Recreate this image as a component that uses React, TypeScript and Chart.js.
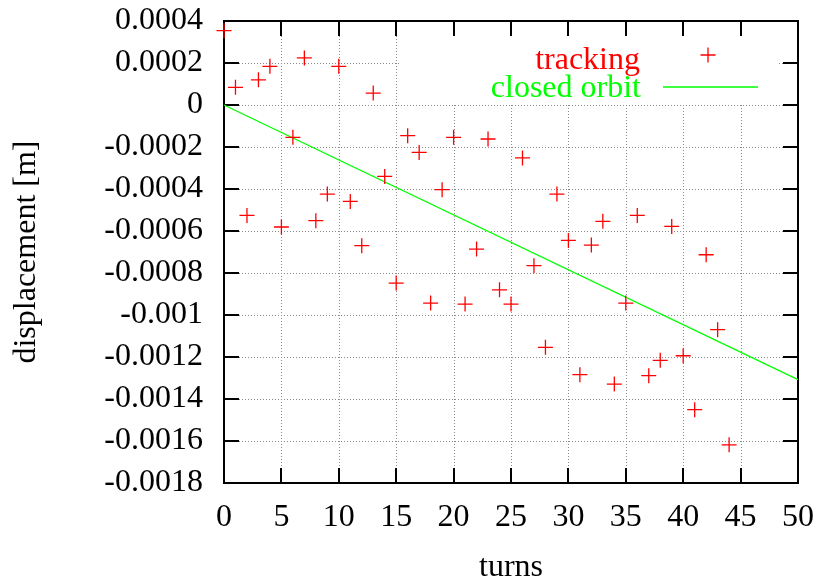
import React, { useEffect, useRef } from "react";
import { Chart, registerables } from "chart.js";

Chart.register(...registerables);

// Turn numbers of the tracked particle
const turns = [
  0, 1, 2, 3, 4, 5, 6, 7, 8, 9, 10, 11, 12, 13, 14, 15, 16, 17, 18, 19, 20, 21,
  22, 23, 24, 25, 26, 27, 28, 29, 30, 31, 32, 33, 34, 35, 36, 37, 38, 39, 40,
  41, 42, 43, 44,
];

// Displacement from tracking [m]
const trackingDisp = [
  0.000354, 0.000084, -0.000526, 0.00012, 0.000184, -0.000581, -0.000154,
  0.000224, -0.000551, -0.000424, 0.000184, -0.000459, -0.00067, 0.000057,
  -0.00034, -0.000848, -0.000146, -0.000226, -0.000943, -0.000403, -0.000154,
  -0.000948, -0.000686, -0.000162, -0.00088, -0.000948, -0.000252, -0.000765,
  -0.001154, -0.000424, -0.000645, -0.001284, -0.000667, -0.000554, -0.001329,
  -0.000943, -0.000526, -0.001289, -0.001216, -0.000578, -0.001194, -0.001451,
  -0.000713, -0.00107, -0.001618,
];

// Closed orbit line end points
const orbitTurns = [0, 50];
const orbitDisp = [0, -0.001308];

// Axis ranges and steps
const xRange = [0, 50];
const xStep = 5;
const yRange = [-0.0018, 0.0004];
const yStep = 0.0002;

const FONT = "'Liberation Serif', 'Times New Roman', serif";

const frameAndKey = {
  id: "frameAndKey",
  beforeDatasetsDraw(chart: any) {
    const { ctx, chartArea: a, scales } = chart;
    const xs = scales.x;
    const ys = scales.y;
    const xTicks: number[] = [];
    for (let v = xRange[0]; v <= xRange[1] + 1e-9; v += xStep) xTicks.push(v);
    const yTicks: number[] = [];
    for (let i = 0; ; i++) {
      const v = yRange[0] + i * yStep;
      if (v > yRange[1] + 1e-12) break;
      yTicks.push(v);
    }
    const snap = (p: number) => Math.round(p) + 0.5;

    // key area kept clear of grid lines
    const keyBox = { x1: 400, x2: 777, y1: a.top, y2: 103 };

    ctx.save();
    ctx.beginPath();
    ctx.rect(a.left, a.top, a.right - a.left, a.bottom - a.top);
    ctx.rect(keyBox.x2, keyBox.y1, keyBox.x1 - keyBox.x2, keyBox.y2 - keyBox.y1);
    ctx.clip("evenodd");
    ctx.strokeStyle = "#8a8a8a";
    ctx.lineWidth = 1;
    ctx.setLineDash([1, 2]);
    for (const v of xTicks) {
      const px = snap(xs.getPixelForValue(v));
      ctx.beginPath();
      ctx.moveTo(px, a.top);
      ctx.lineTo(px, a.bottom);
      ctx.stroke();
    }
    for (const v of yTicks) {
      const py = snap(ys.getPixelForValue(v));
      ctx.beginPath();
      ctx.moveTo(a.left, py);
      ctx.lineTo(a.right, py);
      ctx.stroke();
    }
    ctx.restore();

    // border and inward ticks on all four sides
    ctx.save();
    ctx.strokeStyle = "#000";
    ctx.lineWidth = 2;
    ctx.setLineDash([]);
    ctx.strokeRect(a.left, a.top, a.right - a.left, a.bottom - a.top);
    const tl = 15;
    ctx.beginPath();
    for (const v of xTicks) {
      const px = Math.round(xs.getPixelForValue(v));
      ctx.moveTo(px, a.bottom);
      ctx.lineTo(px, a.bottom - tl);
      ctx.moveTo(px, a.top);
      ctx.lineTo(px, a.top + tl);
    }
    for (const v of yTicks) {
      const py = Math.round(ys.getPixelForValue(v));
      ctx.moveTo(a.left, py);
      ctx.lineTo(a.left + tl, py);
      ctx.moveTo(a.right, py);
      ctx.lineTo(a.right - tl, py);
    }
    ctx.stroke();
    ctx.restore();
  },
  afterDraw(chart: any) {
    const { ctx } = chart;
    const ds = chart.data.datasets;
    ctx.save();
    ctx.font = `32px ${FONT}`;
    ctx.textAlign = "right";
    ctx.textBaseline = "alphabetic";

    // tracking entry
    ctx.fillStyle = ds[0].borderColor;
    ctx.fillText(ds[0].label, 640, 69);
    ctx.strokeStyle = ds[0].borderColor;
    ctx.lineWidth = 1.3;
    ctx.beginPath();
    ctx.moveTo(708 - 7.5, 55);
    ctx.lineTo(708 + 7.5, 55);
    ctx.moveTo(708, 55 - 7.5);
    ctx.lineTo(708, 55 + 7.5);
    ctx.stroke();

    // closed orbit entry
    ctx.fillStyle = ds[1].borderColor;
    ctx.fillText(ds[1].label, 641, 97);
    ctx.strokeStyle = ds[1].borderColor;
    ctx.lineWidth = 1.3;
    ctx.beginPath();
    ctx.moveTo(663, 87);
    ctx.lineTo(758, 87);
    ctx.stroke();
    ctx.restore();
  },
};

export default function App() {
  const canvasRef = useRef<HTMLCanvasElement | null>(null);

  useEffect(() => {
    const canvas = canvasRef.current;
    if (!canvas) return;
    const chart = new Chart(canvas, {
      type: "scatter",
      data: {
        datasets: [
          {
            label: "tracking",
            data: turns.map((t, i) => ({ x: t, y: trackingDisp[i] })),
            pointStyle: "cross",
            pointRadius: 7.5,
            borderWidth: 1.3,
            borderColor: "#ff0000",
            backgroundColor: "#ff0000",
            showLine: false,
            clip: false,
          },
          {
            label: "closed orbit",
            data: orbitTurns.map((t, i) => ({ x: t, y: orbitDisp[i] })),
            showLine: true,
            pointRadius: 0,
            borderWidth: 1.3,
            borderColor: "#00ff00",
            backgroundColor: "#00ff00",
            clip: false,
          },
        ],
      },
      options: {
        animation: false,
        responsive: true,
        maintainAspectRatio: false,
        events: [],
        layout: { padding: 0 },
        plugins: {
          legend: { display: false },
          tooltip: { enabled: false },
        },
        scales: {
          x: {
            type: "linear",
            min: xRange[0],
            max: xRange[1],
            grid: { display: false, drawTicks: false },
            border: { display: false },
            ticks: {
              stepSize: xStep,
              autoSkip: false,
              color: "#000",
              padding: 15,
              maxRotation: 0,
              font: { family: FONT, size: 32 },
            },
            title: {
              display: true,
              text: "turns",
              color: "#000",
              font: { family: FONT, size: 32, lineHeight: 1 },
              padding: { top: 0, bottom: 1 },
            },
            afterFit: (s: any) => {
              s.height = 102;
              s.paddingLeft = 0;
              s.paddingRight = 21;
            },
          },
          y: {
            type: "linear",
            min: yRange[0],
            max: yRange[1],
            grid: { display: false, drawTicks: false },
            border: { display: false },
            ticks: {
              stepSize: yStep,
              autoSkip: false,
              color: "#000",
              padding: 21,
              font: { family: FONT, size: 32 },
              callback: (v: any) => Number(Number(v).toFixed(4)).toString(),
            },
            title: {
              display: true,
              text: "displacement [m]",
              color: "#000",
              font: { family: FONT, size: 32, lineHeight: 1 },
              padding: { top: 11, bottom: 0 },
            },
            afterFit: (s: any) => {
              s.width = 224;
              s.paddingTop = 21;
              s.paddingBottom = 0;
            },
          },
        },
      },
      plugins: [frameAndKey],
    });
    return () => chart.destroy();
  }, []);

  return (
    <div
      style={{
        position: "fixed",
        left: 0,
        top: 0,
        width: 819,
        height: 585,
        background: "#fff",
      }}
    >
      <canvas ref={canvasRef} />
    </div>
  );
}
